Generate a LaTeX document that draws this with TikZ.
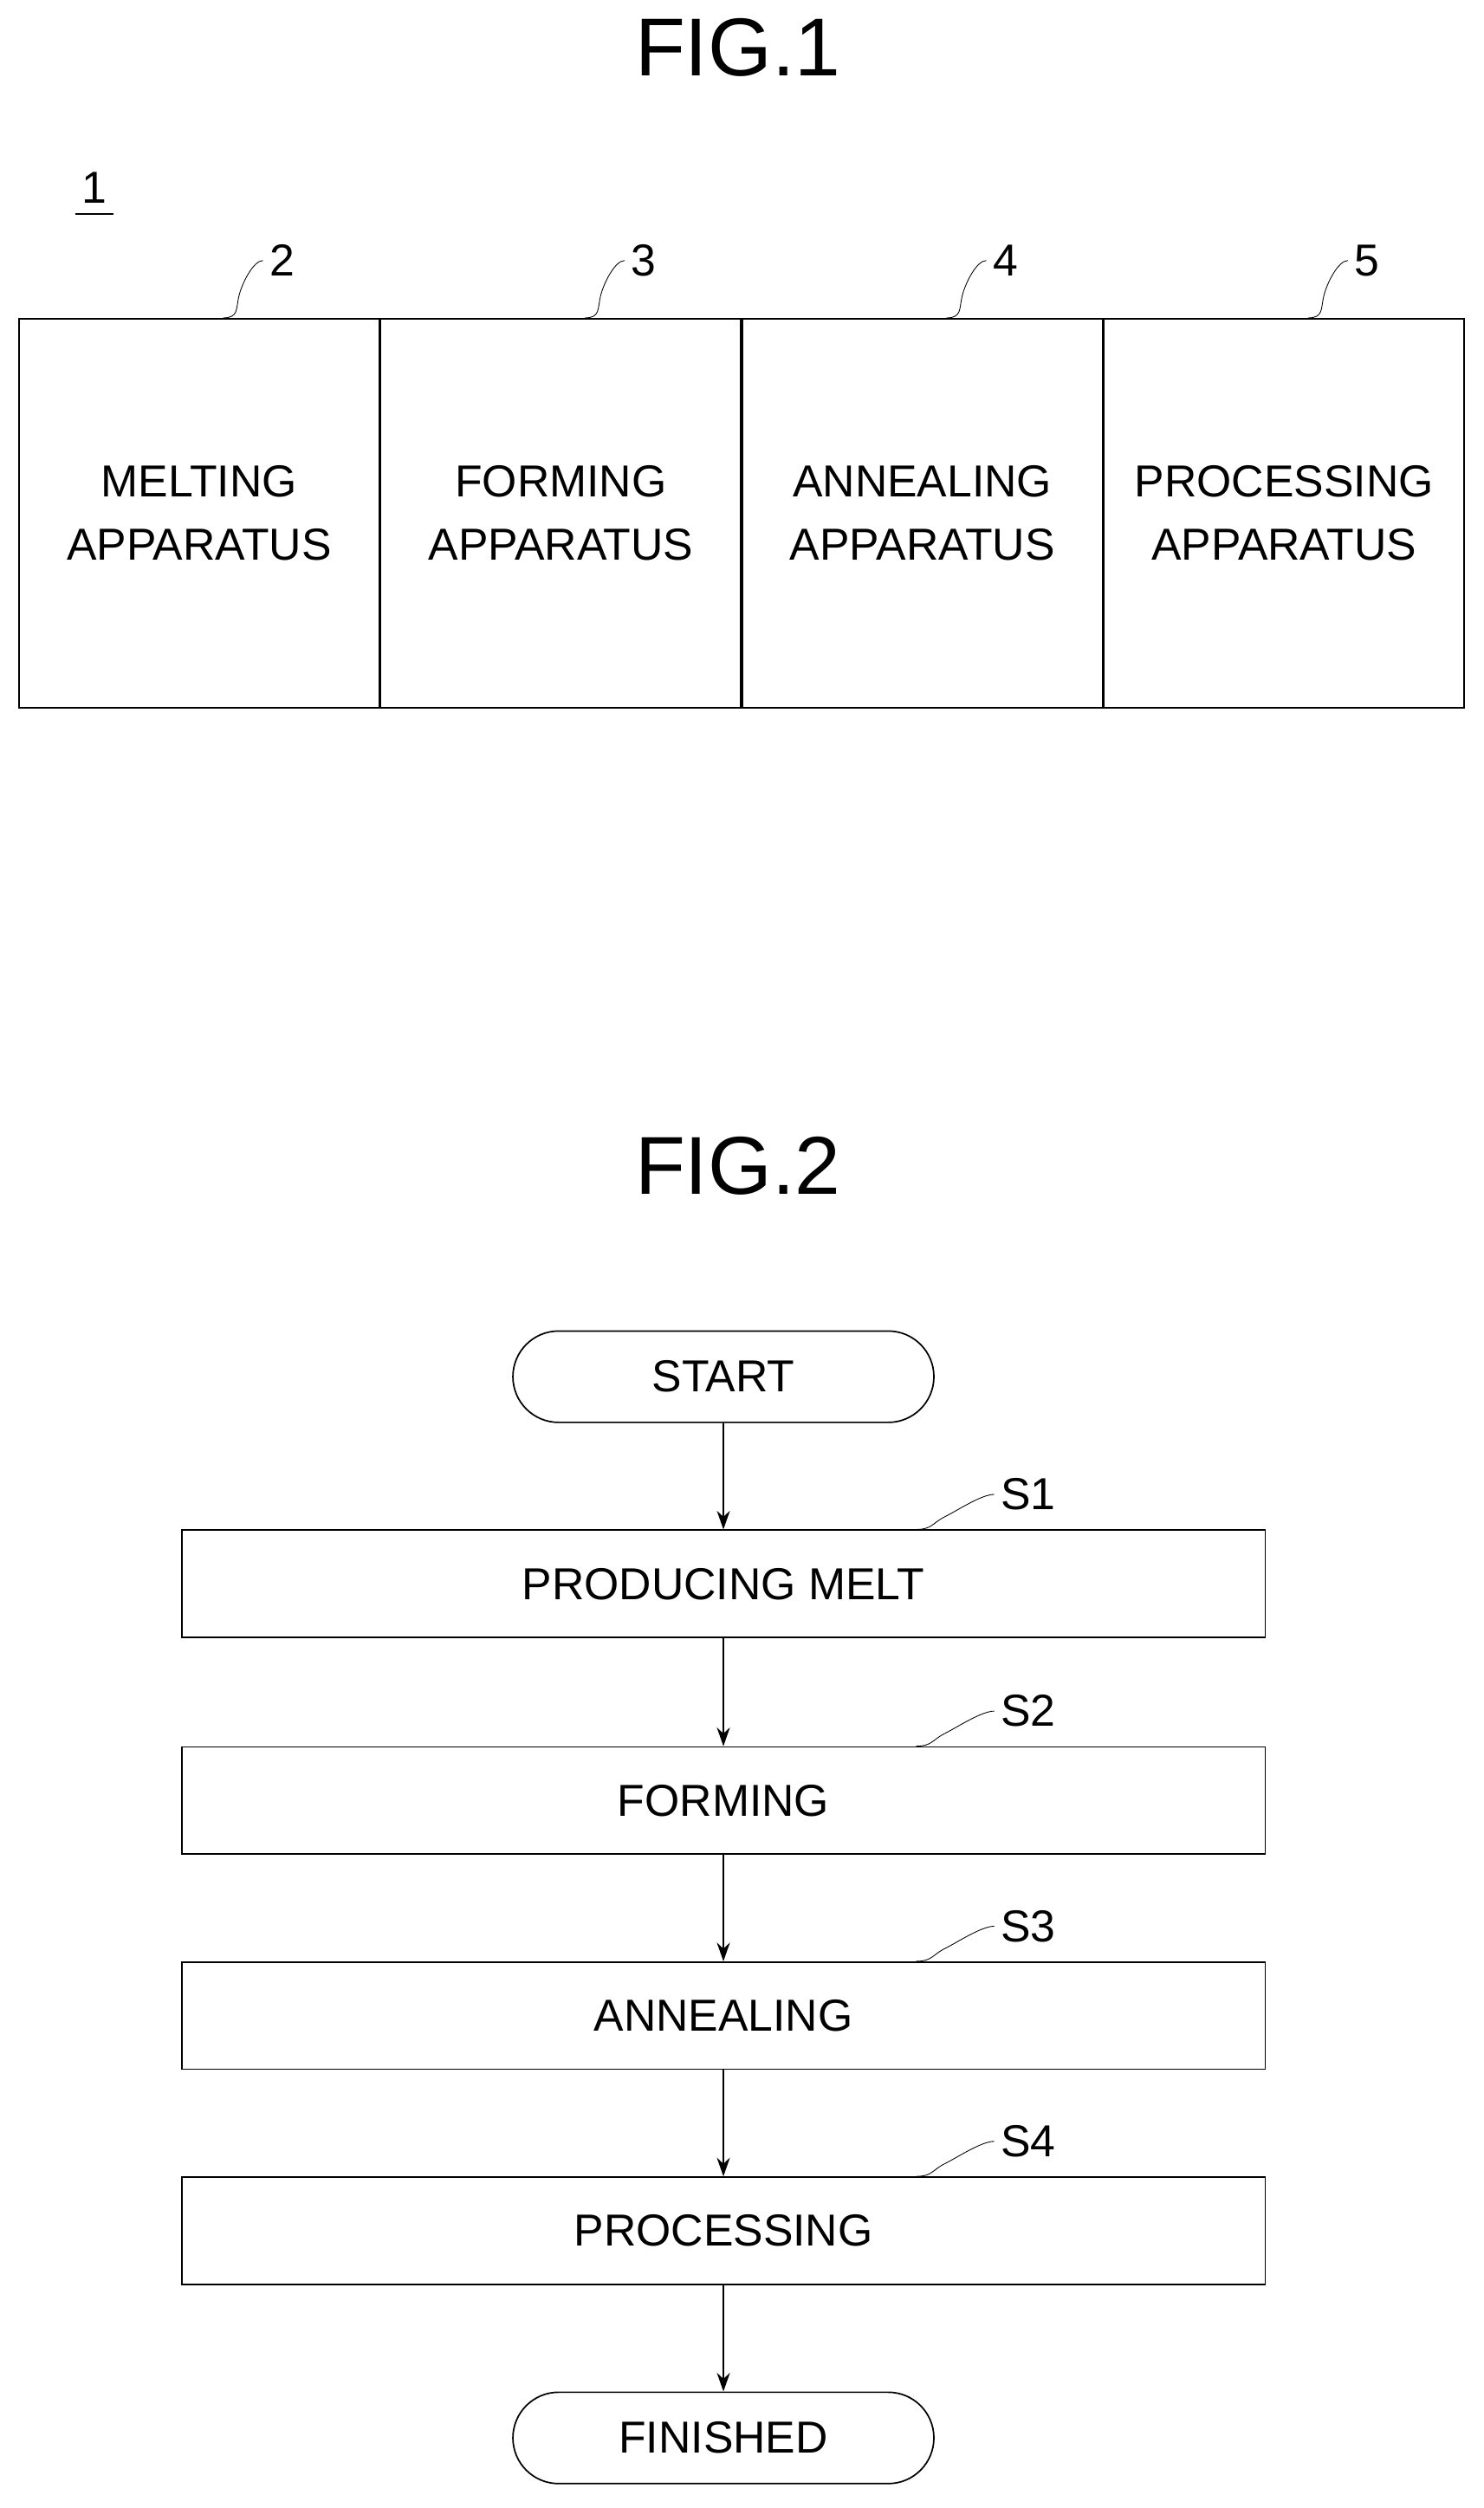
\documentclass[tikz,border=0pt]{standalone}
\usepackage{fontspec}
\setmainfont{Liberation Sans}
\usetikzlibrary{positioning,shapes.misc,arrows.meta}
\tikzset{
  unit/.style={draw,thick,minimum width=6.78cm,minimum height=7.32cm,align=center,inner sep=0pt,font=\fontsize{24}{34}\selectfont},
  stepbox/.style={draw,thick,minimum width=20.4cm,minimum height=2.02cm,font=\fontsize{24}{28}\selectfont},
  term/.style={draw,thick,rounded rectangle,minimum width=8.16cm,minimum height=1.72cm,font=\fontsize{24}{28}\selectfont},
  flow/.style={thick,-{Stealth[length=10pt,width=7pt]}},
  ref/.style={font=\fontsize{24}{28}\selectfont},
  leader/.style={thin}
}
\begin{document}
\begin{tikzpicture}[x=0.03cm,y=-0.03cm]
\useasboundingbox (0,0) rectangle (931,1574);
% FIG.1
\node[font=\fontsize{44}{50}\selectfont] (fig1) at (463,30) {FIG.1};
\node[ref] (n1) at (59,118) {1};
\draw[thick] ([yshift=-2pt]n1.south west) -- ([yshift=-2pt]n1.south east);
\node[unit] (melt) at (125,322) {MELTING\\APPARATUS};
\node[unit,right=0pt of melt] (form) {FORMING\\APPARATUS};
\node[unit,right=0pt of form] (anneal) {ANNEALING\\APPARATUS};
\node[unit,right=0pt of anneal] (proc) {PROCESSING\\APPARATUS};
\foreach \u/\num in {melt/2,form/3,anneal/4,proc/5}{
  \coordinate (\u-a) at ([xshift=0.45cm]\u.north);
  \node[ref] (\u-n) at ([xshift=1.56cm,yshift=1.08cm]\u.north) {\num};
  \draw[leader] (\u-a) .. controls +(10,0) and +(-2,8) .. ++(10,-14)
    .. controls +(2,-8) and +(-6,0) .. (\u-n.west);
}
% FIG.2
\node[font=\fontsize{44}{50}\selectfont] (fig2) at (463,732) {FIG.2};
\node[term] (start) at (454,864) {START};
\node[stepbox] (s1) at (454,994) {PRODUCING MELT};
\node[stepbox] (s2) at (454,1130) {FORMING};
\node[stepbox] (s3) at (454,1265) {ANNEALING};
\node[stepbox] (s4) at (454,1400) {PROCESSING};
\node[term] (fin) at (454,1530) {FINISHED};
\draw[flow] (start) -- (s1);
\foreach \a/\b in {s1/s2,s2/s3,s3/s4,s4/fin} \draw[flow] (\a) -- (\b);
\foreach \s/\lab in {s1/S1,s2/S2,s3/S3,s4/S4}{
  \coordinate (\s-a) at ([xshift=3.63cm]\s.north);
  \node[ref,anchor=west] (\s-n) at ([xshift=5.1cm,yshift=0.66cm]\s.north) {\lab};
  \draw[leader] (\s-a) .. controls +(10,0) and +(-8,4) .. ++(18,-8)
    .. controls +(8,-4) and +(-8,0) .. (\s-n.west);
}
\end{tikzpicture}
\end{document}
